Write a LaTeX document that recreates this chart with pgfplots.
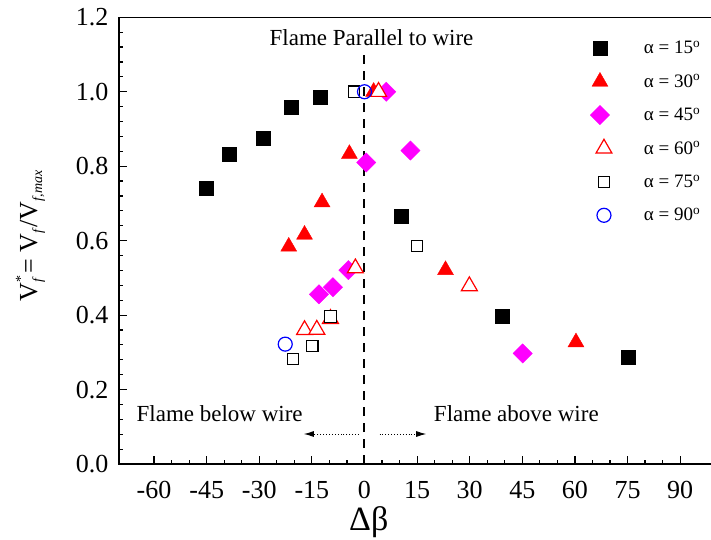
\documentclass[border=0pt]{standalone}
\usepackage{pgfplots}
\pgfplotsset{compat=1.18}
\usepackage{fontspec}
\setmainfont{Liberation Serif}
\usetikzlibrary{arrows.meta}

\definecolor{pureRed}{RGB}{255,0,0}
\definecolor{pureMagenta}{RGB}{255,0,255}
\definecolor{pureBlue}{RGB}{0,0,255}

% small italic index set below the baseline
\newcommand{\idx}[1]{\raisebox{-5pt}{\fontsize{14}{14}\selectfont\textit{#1}}}

% legend samples: marker followed by a fixed gap before the text
\pgfplotsset{
  legend marker at/.style={
    legend image code/.code={
      \path[draw=none, fill=none] (0pt,-10pt) rectangle (#1+40pt,10pt);
      \draw[##1] plot coordinates {(#1,0pt)};
    }
  }
}

% normalised flame spread rate vs. angle difference, one series per wire inclination
\pgfplotstableread{
x y
-45 0.742
-38.5 0.833
-29 0.876
-21 0.959
-12.5 0.986
10.5 0.666
39.3 0.398
75.3 0.286
}\aFifteen
\pgfplotstableread{
x y
-21.6 0.584
-17.1 0.616
-12.1 0.703
-4.3 0.833
2.6 1.0
23.1 0.521
60.3 0.327
}\aThirty
\pgfplotstableread{
x y
-13.0 0.456
-9.0 0.475
-4.6 0.521
0.5 0.810
6.2 1.0
13.1 0.842
45.1 0.297
}\aFortyFive
\pgfplotstableread{
x y
-17.1 0.360
-13.6 0.361
-9.7 0.390
-2.6 0.526
4.0 1.0
29.9 0.478
}\aSixty
\pgfplotstableread{
x y
-20.4 0.282
-14.9 0.317
-9.7 0.396
-3.0 1.0
15.0 0.586
}\aSeventyFive
\pgfplotstableread{
x y
-22.6 0.322
0.0 1.0
}\aNinety

\begin{document}
\begin{tikzpicture}
\path[use as bounding box] (-119pt,-75pt) rectangle (592pt,464pt);
\begin{axis}[
  at={(0pt,0pt)}, anchor=south west,
  width=596.2pt, height=446.7pt, scale only axis,
  xmin=-70, xmax=100, ymin=0, ymax=1.2,
  xtick={-60,-45,-30,-15,0,15,30,45,60,75,90},
  ytick={0,0.2,0.4,0.6,0.8,1.0,1.2},
  minor x tick num=2, minor y tick num=4,
  tick align=inside, tick pos=left,
  major tick length=8pt, minor tick length=4pt,
  axis line style={line width=1.6pt},
  tick style={line width=1.2pt, black},
  /pgf/number format/assume math mode=true,
  ticklabel style={font=\fontsize{26}{26}\selectfont},
  xticklabel style={yshift=-14pt},
  yticklabel style={xshift=-7pt, /pgf/number format/fixed,
    /pgf/number format/fixed zerofill, /pgf/number format/precision=1},
  xlabel={Δβ},
  xlabel style={font=\fontsize{34}{34}\selectfont, at={(axis description cs:0.419,-0.13)}, anchor=center},
  ylabel={V\kern0.5pt\rlap{\idx{f}}\raisebox{12pt}{\fontsize{14}{14}\selectfont *}\kern2pt= V\kern0.5pt\idx{f}/V\kern0.5pt\idx{f,max}},
  ylabel style={font=\fontsize{26}{26}\selectfont, at={(axis description cs:-0.1375,0.51)}, anchor=base},
  legend cell align=left,
  legend style={draw=none, fill=none, inner sep=0pt, outer sep=0pt,
    at={(axis description cs:0.7866,0.953)}, anchor=north west,
    font=\fontsize{19}{19}\selectfont, row sep=13.4pt,
    nodes={inner sep=0pt}},
  legend marker at=12pt,
]
\addplot[only marks, mark=square*, mark size=7pt, black, mark options={fill=black}]
  table {\aFifteen};
\addlegendentry{α = 15\textsuperscript{o}}
\addplot[only marks, mark=triangle*, mark size=9.2pt, pureRed, mark options={fill=pureRed}]
  table {\aThirty};
\addlegendentry{α = 30\textsuperscript{o}}
\addplot[only marks, mark=square*, mark size=6.8pt, pureMagenta, mark options={fill=pureMagenta, rotate=45}]
  table {\aFortyFive};
\addlegendentry{α = 45\textsuperscript{o}}
\addplot[only marks, mark=triangle*, mark size=9.2pt, pureRed, mark options={fill=white, line width=1.2pt},
  legend marker at=16pt]
  table {\aSixty};
\addlegendentry{α = 60\textsuperscript{o}}
\addplot[only marks, mark=square*, mark size=5.7pt, black, mark options={fill=white, line width=1.2pt},
  legend marker at=16pt]
  table {\aSeventyFive};
\addlegendentry{α = 75\textsuperscript{o}}
\addplot[only marks, mark=o, mark size=7pt, pureBlue, mark options={line width=1.2pt},
  legend marker at=16pt]
  table {\aNinety};
\addlegendentry{α = 90\textsuperscript{o}}

% boundary between the two flame positions
\addplot[black, line width=2pt, dash pattern=on 9pt off 7pt, forget plot]
  coordinates {(0,0) (0,1.10)};

\node[font=\fontsize{23}{23}\selectfont] at (axis cs:2,1.145) {Flame Parallel to wire};
\node[font=\fontsize{23}{23}\selectfont] at (axis cs:-41.3,0.134) {Flame below wire};
\node[font=\fontsize{23}{23}\selectfont] at (axis cs:43.3,0.134) {Flame above wire};
\draw[dotted, line width=0.9pt, -{Latex[length=10pt,width=6pt]}] (axis cs:-1.6,0.0806) -- (axis cs:-17.3,0.0806);
\draw[dotted, line width=0.9pt, -{Latex[length=10pt,width=6pt]}] (axis cs:4.3,0.0806) -- (axis cs:17.6,0.0806);
\end{axis}
\end{tikzpicture}
\end{document}
